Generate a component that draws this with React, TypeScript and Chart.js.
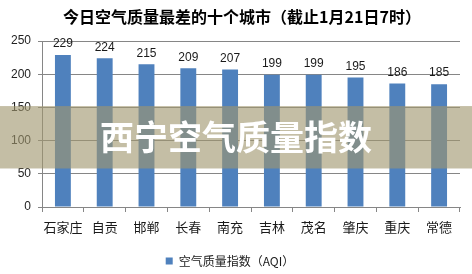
import React, { useEffect, useRef } from "react";
import { Chart, registerables } from "chart.js";

Chart.register(...registerables);

const TITLE = "今日空气质量最差的十个城市（截止1月21日7时）";
const BANNER = "西宁空气质量指数";
const SERIES_NAME = "空气质量指数（AQI）";
const cities = ["石家庄", "自贡", "邯郸", "长春", "南充", "吉林", "茂名", "肇庆", "重庆", "常德"];
const aqi = [229, 224, 215, 209, 207, 199, 199, 195, 186, 185];
const yTicks = [0, 50, 100, 150, 200, 250];

const FONT = "'Liberation Sans', 'Noto Sans CJK SC', sans-serif";
const CJK = "'Noto Sans CJK SC', 'Liberation Sans', sans-serif";

export default function App() {
  const ref = useRef<HTMLCanvasElement | null>(null);
  useEffect(() => {
    if (!ref.current) return;
    const valueLabels = {
      id: "valueLabels",
      afterDatasetsDraw(chart: any) {
        const ctx = chart.ctx;
        const meta = chart.getDatasetMeta(0);
        ctx.save();
        ctx.font = "12px " + FONT;
        ctx.fillStyle = "#1a1a1a";
        ctx.textAlign = "center";
        ctx.textBaseline = "bottom";
        meta.data.forEach((el: any, i: number) => {
          ctx.fillText(String(aqi[i]), el.x, el.y - 5);
        });
        ctx.restore();
      },
    };
    const overlay = {
      id: "overlay",
      afterDraw(chart: any) {
        const ctx = chart.ctx;
        const w = chart.width;
        const y = chart.scales.y;
        const top = y.getPixelForValue(152);
        const bottom = y.getPixelForValue(58);
        ctx.save();
        // title
        ctx.font = "bold 16px " + CJK;
        ctx.fillStyle = "#000";
        ctx.textAlign = "center";
        ctx.textBaseline = "middle";
        ctx.fillText(TITLE, 242, 16.5);
        // banner
        ctx.fillStyle = "rgba(160,150,110,0.62)";
        ctx.fillRect(0, top, w, bottom - top);
        ctx.font = "bold 34px " + CJK;
        ctx.fillStyle = "#ffffff";
        ctx.fillText(BANNER, w / 2, (top + bottom) / 2);
        ctx.restore();
      },
    };
    const chart = new Chart(ref.current, {
      type: "bar",
      data: {
        labels: cities,
        datasets: [
          {
            label: SERIES_NAME,
            data: aqi,
            backgroundColor: "#4F81BD",
            borderWidth: 0,
            barPercentage: 0.38,
            categoryPercentage: 1,
          },
        ],
      },
      options: {
        animation: false,
        responsive: false,
        devicePixelRatio: 1,
        layout: { padding: { left: 0, right: 12, top: 41, bottom: -3 } },
        plugins: {
          tooltip: { enabled: false },
          title: { display: false },
          legend: {
            position: "bottom",
            labels: {
              boxWidth: 7,
              boxHeight: 7,
              padding: 2,
              color: "#1a1a1a",
              font: { size: 12, family: CJK },
            },
          },
        },
        scales: {
          x: {
            afterFit(scale: any) {
              scale.height = 46;
            },
            grid: {
              drawOnChartArea: false,
              drawTicks: true,
              tickLength: 5,
              color: "#868686",
            },
            border: { color: "#868686" },
            ticks: {
              color: "#1a1a1a",
              padding: 7,
              font: { size: 13, family: CJK },
              maxRotation: 0,
              autoSkip: false,
            },
          },
          y: {
            min: 0,
            max: 250,
            afterFit(scale: any) {
              scale.width = 42;
            },
            afterBuildTicks(scale: any) {
              scale.ticks = yTicks.map((v) => ({ value: v }));
            },
            grid: { color: "#868686", tickLength: 4 },
            border: { color: "#868686" },
            ticks: {
              color: "#222",
              padding: 7,
              font: { size: 12, family: FONT },
            },
          },
        },
      },
      plugins: [valueLabels, overlay],
    });
    return () => chart.destroy();
  }, []);
  return (
    <div style={{ position: "fixed", left: 0, top: 0, width: 472, height: 274, background: "#fff" }}>
      <canvas ref={ref} width={472} height={274} />
    </div>
  );
}
